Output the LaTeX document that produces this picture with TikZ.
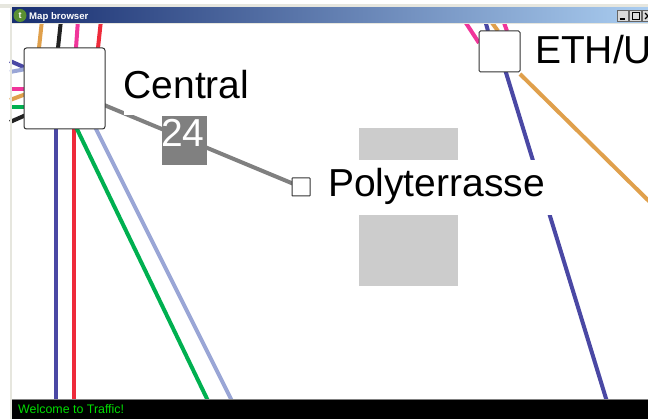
\documentclass[tikz,border=0pt]{standalone}
\usepackage{fontspec}
\setmainfont{Liberation Sans}
\usetikzlibrary{backgrounds}
\definecolor{lblue}{HTML}{4A48A4}
\definecolor{lred}{HTML}{EE2A3A}
\definecolor{lpink}{HTML}{F0359A}
\definecolor{lorange}{HTML}{E0A04C}
\definecolor{lblack}{HTML}{222222}
\definecolor{lgreen}{HTML}{00B050}
\definecolor{lperi}{HTML}{9AA6D6}
\definecolor{lgrey}{HTML}{808080}
\definecolor{pale}{HTML}{CCCCCC}
\definecolor{framecol}{HTML}{E6E6DE}
\definecolor{statusgreen}{HTML}{00DD00}
\definecolor{barleft}{HTML}{182E70}
\definecolor{barright}{HTML}{AACDF0}
\definecolor{iconcol}{HTML}{5A8F32}
\tikzset{
  metro/.style={line width=4pt},
  station/.style={draw=black!80,line width=1pt,fill=white,rounded corners=2.5pt,inner sep=0pt,outer sep=0pt},
  biglabel/.style={inner sep=0pt,outer sep=0pt,anchor=base west,font=\fontsize{39}{40}\selectfont,text=black},
  winbtn/.style={draw=black!60,line width=.8pt,fill=black!15,minimum width=11.5pt,minimum height=10.5pt,inner sep=0pt},
}
\begin{document}
\begin{tikzpicture}[x=1pt,y=-1pt]
\useasboundingbox (0,0) rectangle (648,419);
\clip (0,0) rectangle (648,419);
% grey block behind the Polyterrasse label
\node[fill=pale,inner sep=0pt,minimum width=99pt,minimum height=158pt,anchor=north west] (panel) at (359,128) {};
% stations
\node[station,minimum width=81pt,minimum height=81pt,anchor=north west] (central) at (24,48) {};
\node[station,rounded corners=1.5pt,minimum width=41pt,minimum height=41pt,anchor=north west] (eth) at (479,31) {};
\node[station,rounded corners=.5pt,minimum width=18pt,minimum height=18pt,anchor=north west] (poly) at (292,178) {};
% free ends
\coordinate (t1) at (42,20); \coordinate (t2) at (61,20); \coordinate (t3) at (78,20); \coordinate (t4) at (101,20);
\coordinate (l1) at (10,61); \coordinate (l2) at (10,72); \coordinate (l3) at (10,89);
\coordinate (l4) at (10,100); \coordinate (l5) at (10,107); \coordinate (l6) at (10,122);
\coordinate (b1) at (56,405); \coordinate (b2) at (74,405); \coordinate (b3) at (210,405); \coordinate (b4) at (234,405);
\coordinate (e1) at (464,20); \coordinate (e2) at (485,20); \coordinate (e3) at (490,20); \coordinate (e4) at (503,20);
\coordinate (e5) at (608,405); \coordinate (e6) at (660,212);
\begin{pgfonlayer}{background}
\fill[white] (0,0) rectangle (648,419);
\draw[metro,lorange] (t1) -- ([xshift=15pt]central.north west);
\draw[metro,lblack] (t2) -- ([xshift=34pt]central.north west);
\draw[metro,lpink] (t3) -- ([xshift=52pt]central.north west);
\draw[metro,lred] (t4) -- ([xshift=74pt]central.north west);
\draw[metro,lblue] (l1) -- ([yshift=-20pt,xshift=2pt]central.north west);
\draw[metro,lperi] (l2) -- ([yshift=-21pt,xshift=2pt]central.north west);
\draw[metro,lpink] (l3) -- ([yshift=-41pt]central.north west);
\draw[metro,lorange] (l4) -- ([yshift=-46pt,xshift=2pt]central.north west);
\draw[metro,lgreen] (l5) -- ([yshift=-59pt]central.north west);
\draw[metro,lblack] (l6) -- ([yshift=-67pt,xshift=2pt]central.north west);
\draw[metro,lblue] (b1) -- ([xshift=32pt]central.south west);
\draw[metro,lred] (b2) -- ([xshift=50pt]central.south west);
\draw[metro,lgreen] (b3) -- ([xshift=52pt,yshift=2pt]central.south west);
\draw[metro,lperi] (b4) -- ([xshift=71pt,yshift=2pt]central.south west);
\draw[metro,lpink] (e1) -- ([yshift=-12pt]eth.north west);
\draw[metro,lblue] (e2) -- ([xshift=9pt]eth.north west);
\draw[metro,lorange] (e3) -- ([xshift=19pt]eth.north west);
\draw[metro,lpink] (e4) -- ([xshift=28pt]eth.north west);
\draw[metro,lblue] (e5) -- (eth.center);
\draw[metro,lorange] (e6) -- ([yshift=-2pt]eth.south east);
\draw[metro,lgrey] (central.center) -- (poly.center);
\end{pgfonlayer}
% labels
\node[biglabel,fill=white,text height=38pt,text depth=17pt] (lc) at (123.5,98.5) {Central};
\node[biglabel,fill=white,text height=37pt,text depth=18pt,text width=224pt,align=left] (lp) at (328,197) {Polyterrasse};
\node[biglabel] (le) at (535,64) {ETH/U};
\node[fill=lgrey,text=white,inner sep=0pt,minimum width=45.5pt,minimum height=49pt,anchor=north west] (n24) at (161.5,116) {};
\node[inner sep=0pt,text=white,font=\fontsize{39}{40}\selectfont,anchor=base] (t24) at (183,147) {24};
% window chrome
\fill[framecol] (0,4.5) rectangle (648,8);
\fill[framecol] (9.5,4.5) rectangle (12,419);
\path[left color=barleft,right color=barright] (12,8) rectangle (648,23);
\fill[framecol] (12,23) rectangle (648,24);
\node[circle,fill=iconcol,text=white,inner sep=0pt,minimum size=13pt,font=\bfseries\fontsize{9}{9}\selectfont] (icon) at (20,15.5) {t};
\node[anchor=base west,inner sep=0pt,text=white,font=\bfseries\fontsize{9.6}{10}\selectfont] (title) at (29,19.5) {Map browser};
\node[winbtn] (bmin) at (623,16) {};
\node[winbtn] (bmax) at (635.5,16) {};
\node[winbtn] (bclose) at (648,16) {};
\draw[black,line width=1.5pt] ([xshift=-3.5pt,yshift=-3pt]bmin.center) -- ([xshift=1.5pt,yshift=-3pt]bmin.center);
\draw[black,line width=1pt] ([xshift=-3.5pt,yshift=-3.5pt]bmax.center) rectangle ([xshift=3.5pt,yshift=3.5pt]bmax.center);
\draw[black,line width=1.2pt] ([xshift=-3pt,yshift=-3pt]bclose.center) -- ([xshift=3pt,yshift=3pt]bclose.center);
\draw[black,line width=1.2pt] ([xshift=-3pt,yshift=3pt]bclose.center) -- ([xshift=3pt,yshift=-3pt]bclose.center);
% status bar
\fill[black] (12,400) rectangle (648,419);
\draw[black!50,line width=1pt] (12,400) -- (648,400);
\node[anchor=base west,inner sep=0pt,text=statusgreen,font=\fontsize{12.4}{13}\selectfont] (status) at (18,413.5) {Welcome to Traffic!};
\end{tikzpicture}
\end{document}
